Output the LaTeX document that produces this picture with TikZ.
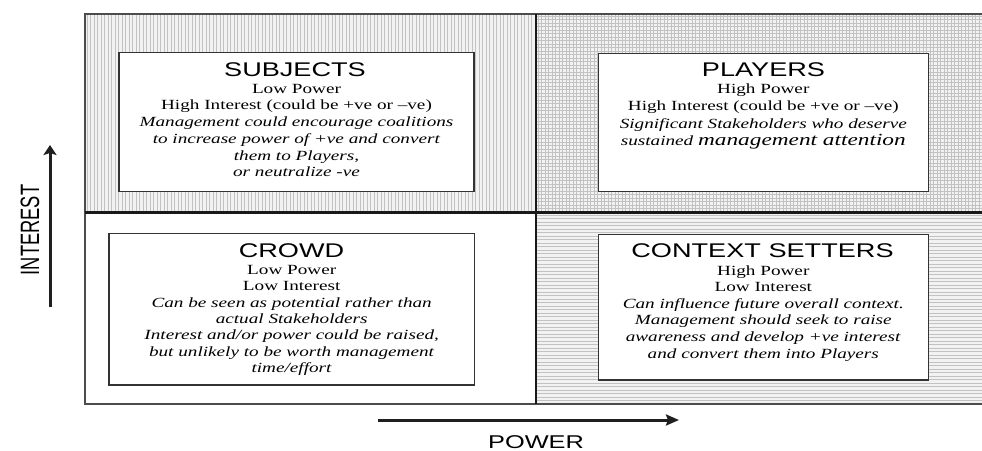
\documentclass[tikz,border=0pt]{standalone}
\usepackage{fontspec}
\setmainfont{Liberation Serif}[FakeStretch=1.37]
\newfontfamily\headfont{Liberation Sans}[FakeStretch=1.37]
\newfontfamily\axisfont{Liberation Sans}
\usetikzlibrary{arrows.meta}
\tikzset{
  patbg/.style={fill=black!5},
  patline/.style={draw=black!24, line width=0.7pt},
  frameline/.style={draw=black!70, line width=1.2pt},
  divider/.style={draw=black!90, line width=2.6pt},
  qbox/.style={draw=black!80, line width=1.3pt, fill=white, inner sep=0pt},
  qtitle/.style={font=\headfont\fontsize{19.8}{20}\selectfont, inner sep=0pt, text=black},
  qbody/.style={align=center, inner sep=0pt, text=black},
  axisarrow/.style={draw=black!88, line width=3pt},
}
\begin{document}
\begin{tikzpicture}[x=1pt,y=-1pt]
\useasboundingbox (0,0) rectangle (982,450);
\begin{scope}
\clip (0,0) rectangle (982,450);
\fill[white] (0,0) rectangle (982,450);
% top-left: vertical lines
\begin{scope}
  \clip (85,14) rectangle (536,212.5);
  \fill[patbg] (85,14) rectangle (536,212.5);
  \foreach \x in {87,90.5,...,536} \draw[patline] (\x,14) -- (\x,212.5);
\end{scope}
% top-right: grid
\begin{scope}
  \clip (536,14) rectangle (990,212.5);
  \fill[patbg] (536,14) rectangle (990,212.5);
  \foreach \x in {538,541.5,...,990} \draw[patline] (\x,14) -- (\x,212.5);
  \foreach \y in {16,19.5,...,212.5} \draw[patline] (536,\y) -- (990,\y);
\end{scope}
% bottom-right: horizontal lines
\begin{scope}
  \clip (536,212.5) rectangle (990,404);
  \fill[patbg] (536,212.5) rectangle (990,404);
  \foreach \y in {215,218.5,...,404} \draw[patline] (536,\y) -- (990,\y);
\end{scope}
% frame and dividers
\draw[frameline] (995,14) -- (85,14) -- (85,404) -- (995,404);
\draw[divider] (536,14) -- (536,404);
\draw[divider] (85,212.5) -- (995,212.5);
\end{scope}

% boxes
\node[qbox, minimum width=355pt, minimum height=139pt] (subjbox) at (296.5,122.2) {};
\node[qbox, minimum width=330pt, minimum height=138.4pt] (playbox) at (763.3,122.5) {};
\node[qbox, minimum width=365.3pt, minimum height=151.7pt] (crowdbox) at (291.7,309.2) {};
\node[qbox, minimum width=330pt, minimum height=145.7pt] (ctxbox) at (763.3,307.2) {};

% titles
\node[qtitle, anchor=base] (subjT) at (295,76.7) {SUBJECTS};
\node[qtitle, anchor=base] (playT) at (763.5,76.7) {PLAYERS};
\node[qtitle, anchor=base] (crowdT) at (291.5,257.3) {CROWD};
\node[qtitle, anchor=base] (ctxT) at (762.5,257.7) {CONTEXT SETTERS};

% bodies
\node[qbody, anchor=north, font=\fontsize{14}{16.74}\selectfont] (subjB) at (296.5,83.8)
  {Low Power\\High Interest (could be +ve or –ve)\\
   \textit{Management could encourage coalitions}\\
   \textit{to increase power of +ve and convert}\\
   \textit{them to Players,}\\
   \textit{or neutralize -ve}};
\node[qbody, anchor=north, font=\fontsize{14}{17.2}\selectfont] (playB) at (763.3,83.7)
  {High Power\\High Interest (could be +ve or –ve)\\
   \textit{Significant Stakeholders who deserve}\\
   \textit{sustained {\fontsize{17}{17.2}\selectfont management attention}}};
\node[qbody, anchor=north, font=\fontsize{14}{16.45}\selectfont] (crowdB) at (291.7,264.8)
  {Low Power\\Low Interest\\
   \textit{Can be seen as potential rather than}\\
   \textit{actual Stakeholders}\\
   \textit{Interest and/or power could be raised,}\\
   \textit{but unlikely to be worth management}\\
   \textit{time/effort}};
\node[qbody, anchor=north, font=\fontsize{14}{16.54}\selectfont] (ctxB) at (763.3,265.4)
  {High Power\\Low Interest\\
   \textit{Can influence future overall context.}\\
   \textit{Management should seek to raise}\\
   \textit{awareness and develop +ve interest}\\
   \textit{and convert them into Players}};

% axes
\coordinate (iS) at (50,307);
\coordinate (iE) at (50,145);
\draw[axisarrow, -{Stealth[length=10pt,width=13pt,inset=2pt]}] (iS) -- (iE);
\coordinate (pS) at (378,420);
\coordinate (pE) at (679,420);
\draw[axisarrow, -{Stealth[length=13pt,width=11pt,inset=2pt]}] (pS) -- (pE);

\node[rotate=90, inner sep=0pt, text=black, font=\axisfont\fontsize{18.3}{20}\selectfont] (intL) at (30,230) {\scalebox{1}[1.45]{INTEREST}};
\node[anchor=base, inner sep=0pt, text=black, font=\headfont\fontsize{18.5}{20}\selectfont] (powL) at (536,448) {POWER};
\end{tikzpicture}
\end{document}
